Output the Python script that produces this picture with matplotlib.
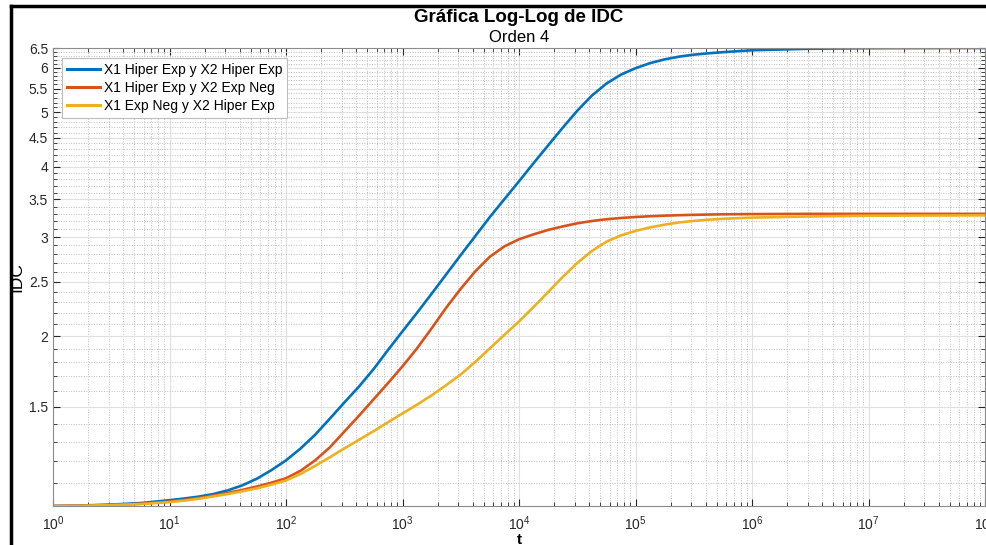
import numpy as np
import matplotlib.pyplot as plt
from matplotlib.lines import Line2D
from matplotlib.ticker import FixedLocator, NullFormatter, LogLocator, LogFormatterMathtext

plt.rcParams['font.family'] = ['Liberation Sans', 'DejaVu Sans']
plt.rcParams['mathtext.fontset'] = 'custom'
plt.rcParams['mathtext.rm'] = 'Liberation Sans'
plt.rcParams['mathtext.it'] = 'Liberation Sans:italic'

# exponentes de t (t = 10**log_t)
log_t = [0, 0.25, 0.5, 0.75,
         1.0, 1.125, 1.25, 1.375, 1.5, 1.625, 1.75, 1.875,
         2.0, 2.125, 2.25, 2.375, 2.5, 2.625, 2.75, 2.875,
         3.0, 3.125, 3.25, 3.375, 3.5, 3.625, 3.75, 3.875,
         4.0, 4.125, 4.25, 4.375, 4.5, 4.625, 4.75, 4.875,
         5.0, 5.125, 5.25, 5.375, 5.5, 5.625,
         5.75, 6.0, 6.5, 7.0, 8.0]

idc_hh = [1.000, 1.002, 1.006, 1.012,
          1.024, 1.031, 1.039, 1.050, 1.066, 1.088, 1.118, 1.158,
          1.205, 1.265, 1.338, 1.428, 1.526, 1.628, 1.748, 1.891,
          2.042, 2.203, 2.381, 2.577, 2.789, 3.014, 3.258, 3.505,
          3.770, 4.060, 4.366, 4.692, 5.030, 5.350, 5.620, 5.830,
          5.985, 6.110, 6.205, 6.275, 6.325, 6.360,
          6.390, 6.440, 6.480, 6.495, 6.500]
idc_he = [1.000, 1.001, 1.004, 1.009,
          1.018, 1.025, 1.033, 1.043, 1.055, 1.068, 1.083, 1.100,
          1.120, 1.155, 1.205, 1.270, 1.355, 1.445, 1.545, 1.652,
          1.770, 1.905, 2.067, 2.249, 2.430, 2.610, 2.770, 2.890,
          2.975, 3.035, 3.090, 3.135, 3.175, 3.205, 3.228, 3.245,
          3.258, 3.268, 3.276, 3.282, 3.287, 3.291,
          3.294, 3.297, 3.300, 3.300, 3.300]
idc_eh = [1.000, 1.001, 1.004, 1.008,
          1.016, 1.022, 1.030, 1.040, 1.050, 1.062, 1.075, 1.091,
          1.110, 1.140, 1.178, 1.220, 1.265, 1.310, 1.357, 1.408,
          1.460, 1.513, 1.572, 1.639, 1.712, 1.802, 1.905, 2.013,
          2.126, 2.255, 2.398, 2.550, 2.700, 2.835, 2.945, 3.022,
          3.078, 3.122, 3.158, 3.186, 3.207, 3.222,
          3.234, 3.250, 3.265, 3.275, 3.280]

labels = ['X1 Hiper Exp y X2 Hiper Exp', 'X1 Hiper Exp y X2 Exp Neg', 'X1 Exp Neg y X2 Hiper Exp']
colors = ['#0072BD', '#D95319', '#EDB120']

y_major = [1.5, 2, 2.5, 3, 3.5, 4, 4.5, 5, 5.5, 6, 6.5]
y_minor = [1.1, 1.2, 1.3, 1.4, 1.6, 1.7, 1.8, 1.9, 2.1, 2.2, 2.3, 2.4, 2.6, 2.7, 2.8, 2.9,
           3.1, 3.2, 3.3, 3.4, 3.6, 3.7, 3.8, 3.9, 4.1, 4.2, 4.3, 4.4, 4.6, 4.7, 4.8, 4.9,
           5.1, 5.2, 5.3, 5.4, 5.6, 5.7, 5.8, 5.9, 6.1, 6.2, 6.3, 6.4]

t = 10.0 ** np.array(log_t)

fig = plt.figure(figsize=(9.86, 5.45), dpi=100)
ax = fig.add_axes([53 / 986, 1 - 506 / 545, 932 / 986, 458 / 545])

for serie, lab, col in zip([idc_hh, idc_he, idc_eh], labels, colors):
    ax.plot(t, serie, color=col, lw=1.9, label=lab, solid_joinstyle='round')

ax.set_xscale('log')
ax.set_yscale('log')
ax.set_xlim(1, 1e8)
ax.set_ylim(1, 6.5)

ax.xaxis.set_major_locator(LogLocator(base=10, numticks=20))
ax.xaxis.set_major_formatter(LogFormatterMathtext())
ax.xaxis.set_minor_locator(LogLocator(base=10, subs=np.arange(2, 10), numticks=100))
ax.xaxis.set_minor_formatter(NullFormatter())

ax.yaxis.set_major_locator(FixedLocator(y_major))
ax.set_yticklabels([('%g' % v) for v in y_major])
ax.yaxis.set_minor_locator(FixedLocator(y_minor))
ax.yaxis.set_minor_formatter(NullFormatter())

ax.grid(True, which='major', color='#e0e0e0', lw=0.8, ls='-')
ax.grid(True, which='minor', color='#bebebe', lw=0.7, ls=(0, (1, 1.6)))
ax.set_axisbelow(True)

ax.tick_params(which='both', direction='in', top=True, right=True, colors='#262626',
               labelsize=10)
ax.tick_params(which='major', length=5, width=0.8)
ax.tick_params(which='minor', length=3, width=0.6)
ax.tick_params(axis='x', pad=6)
for s in ax.spines.values():
    s.set_color('#8c8c8c')
    s.set_linewidth(0.8)

ax.set_xlabel('t', fontsize=11, fontweight='bold', labelpad=0)
ax.set_ylabel('IDC', fontsize=12.5, labelpad=3)
fig.text(519 / 986, 1 - 17 / 545, 'Gráfica Log-Log de IDC', ha='center', va='center',
         fontsize=13.5, fontweight='bold')
fig.text(519 / 986, 1 - 37 / 545, 'Orden 4', ha='center', va='center', fontsize=12)

leg = ax.legend(loc='upper left', bbox_to_anchor=(9 / 932, 1 - 10 / 458), borderaxespad=0,
                fontsize=10, fancybox=False, framealpha=1, edgecolor='#bdbdbd',
                handlelength=2.4, handletextpad=0.25, labelspacing=0.3, borderpad=0.35)
leg.get_frame().set_linewidth(0.8)
for h in leg.get_lines():
    h.set_linewidth(2.2)

# marco negro de la captura
fig.add_artist(Line2D([11 / 986, 1], [1 - 6 / 545, 1 - 6 / 545], color='black', lw=2.5))
fig.add_artist(Line2D([11 / 986, 11 / 986], [0, 1 - 6 / 545], color='black', lw=2.5))

fig.savefig('out.png', dpi=100)
